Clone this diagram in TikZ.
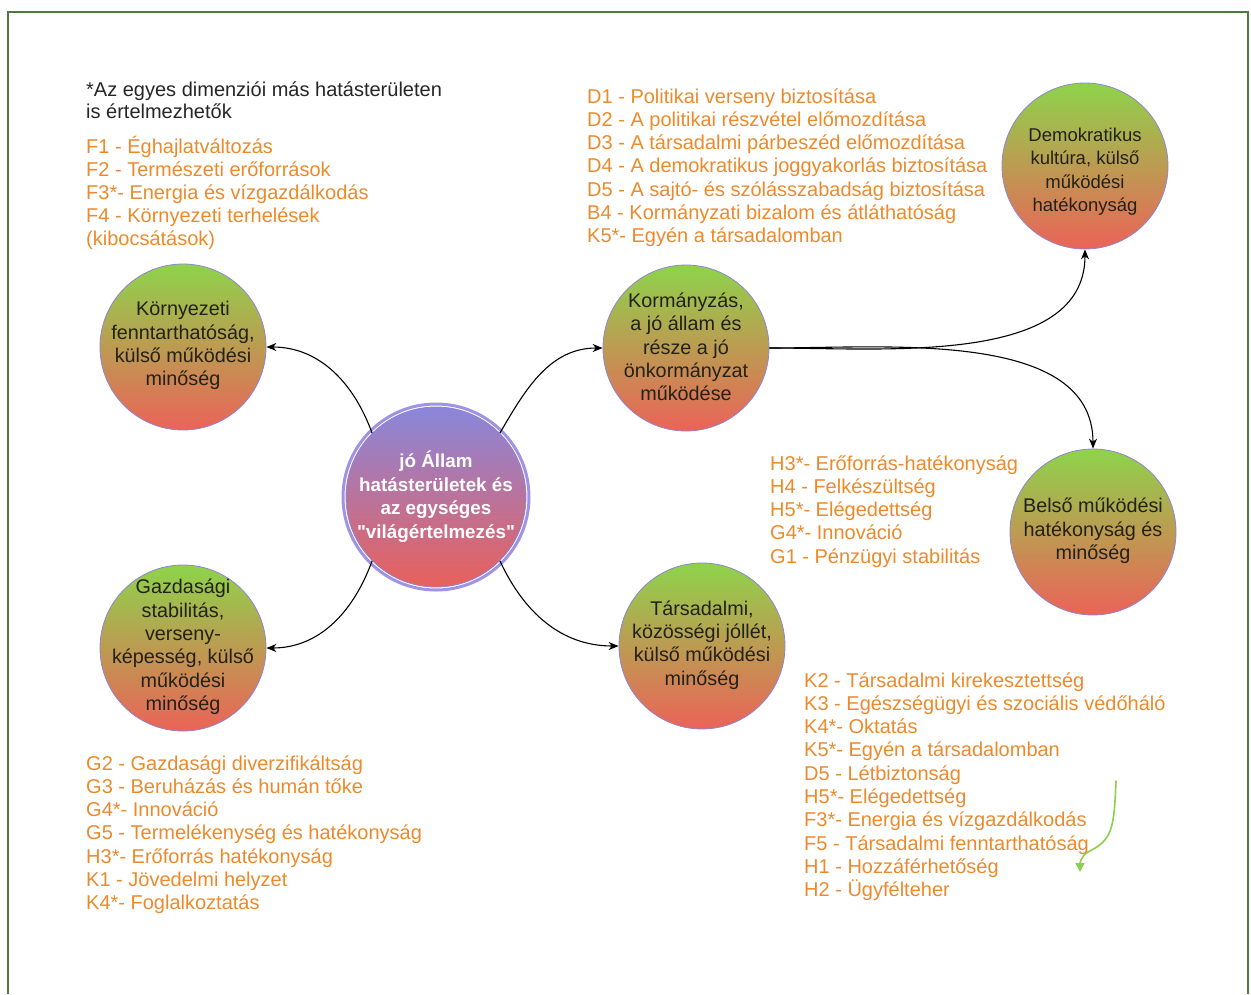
\documentclass[tikz,border=0pt]{standalone}
\usepackage{fontspec}
\setmainfont{Liberation Sans}
\newfontfamily\straightquotes{Liberation Sans}[Ligatures=TeXOff]
\usetikzlibrary{arrows.meta}

\definecolor{framegreen}{HTML}{4E7A3E}
\definecolor{listorange}{HTML}{EC8A2B}
\definecolor{topgreen}{HTML}{8ED34B}
\definecolor{midamber}{HTML}{D2B747}
\definecolor{botred}{HTML}{EB6358}
\definecolor{rimpurple}{HTML}{8F84CF}
\definecolor{hubtop}{HTML}{8A86DC}
\definecolor{hubmid}{HTML}{B675B4}
\definecolor{hubbot}{HTML}{E9605B}
\definecolor{hubring}{HTML}{A092E4}
\definecolor{circtext}{HTML}{222218}
\definecolor{markgreen}{HTML}{8CCF4A}

% centred text block that does not enlarge the circle around it
\newcommand{\circtext}[2][-4pt]{%
  \makebox[0pt]{\smash{\raisebox{#1}{\parbox[c]{172pt}{\centering #2}}}}}
% straight double quote
\newcommand{\sq}{{\straightquotes\symbol{34}}}

\begin{document}
\begin{tikzpicture}[x=1pt,y=-1pt,
  listline/.style={anchor=base west, inner sep=0pt, text=listorange,
    font=\fontsize{20}{23}\selectfont},
  noteline/.style={anchor=base west, inner sep=0pt, text=black!85,
    font=\fontsize{20}{23}\selectfont},
  area/.style={circle, minimum size=166pt, inner sep=0pt, draw=rimpurple,
    line width=0.8pt, top color=topgreen, middle color=midamber,
    bottom color=botred, text=circtext,
    font=\fontsize{19.8}{23.3}\selectfont},
  hub/.style={circle, minimum size=180pt, inner sep=0pt, draw=rimpurple,
    line width=0.8pt, top color=hubtop, middle color=hubmid,
    bottom color=hubbot, text=white,
    font=\bfseries\fontsize{18.8}{23.5}\selectfont},
  link/.style={draw=black, line width=1.1pt,
    -{Stealth[length=10pt,width=8pt]}}
]
\useasboundingbox (0,0) rectangle (1251,994);

% frame
\draw[framegreen, line width=2pt] (8,994) -- (8,12) -- (1248,12) -- (1248,994);

% central node with its outer ring
\node[hub] (hub) at (436,497)
  {\circtext{jó Állam\\hatásterületek és\\az egységes\\\sq világértelmezés\sq}};
\draw[hubring, line width=3pt] (hub.center) circle[radius=93];

% impact areas
\node[area] (env) at (183,347)
  {\circtext{Környezeti\\fenntarthatóság,\\külső működési\\minőség}};
\node[area] (gov) at (686,348)
  {\circtext{Kormányzás,\\a jó állam és\\része a jó\\önkormányzat\\működése}};
\node[area, font=\fontsize{18.5}{23.3}\selectfont] (dem) at (1085,166)
  {\circtext[-10pt]{Demokratikus\\kultúra, külső\\működési\\hatékonyság}};
\node[area] (inn) at (1093,532)
  {\circtext{Belső működési\\hatékonyság és\\minőség}};
\node[area] (soc) at (702,646)
  {\circtext{Társadalmi,\\közösségi jóllét,\\külső működési\\minőség}};
\node[area] (eco) at (183,648)
  {\circtext{Gazdasági\\stabilitás,\\verseny-\\képesség, külső\\működési\\minőség}};

% connectors
\draw[link] (hub.135) to[out=110, in=0] (env.east);
\draw[link] (hub.45) to[out=60, in=180] (gov.west);
\draw[link] (hub.225) to[out=-110, in=0] (eco.east);
\draw[link] (hub.315) to[out=-65, in=180] (soc.west);
\draw[link] (gov.east) to[out=0, in=-90, looseness=0.9] (dem.south);
\draw[link] (gov.east) to[out=0, in=90, looseness=0.9] (inn.north);

% note and indicator lists
\foreach \t [count=\i from 0] in
  {*Az egyes dimenziói más hatásterületen, is értelmezhetők}
  \node[noteline] (note\i) at (86,96+22*\i) {\t};

\foreach \t [count=\i from 0] in
  {F1 - Éghajlatváltozás, F2 - Természeti erőforrások,
   F3*- Energia és vízgazdálkodás, F4 - Környezeti terhelések,
   (kibocsátások)}
  \node[listline] (f\i) at (86,153+23.1*\i) {\t};

\foreach \t [count=\i from 0] in
  {D1 - Politikai verseny biztosítása,
   D2 - A politikai részvétel előmozdítása,
   D3 - A társadalmi párbeszéd előmozdítása,
   D4 - A demokratikus joggyakorlás biztosítása,
   D5 - A sajtó- és szólásszabadság biztosítása,
   B4 - Kormányzati bizalom és átláthatóság,
   K5*- Egyén a társadalomban}
  \node[listline] (d\i) at (587,103+23.3*\i) {\t};

\foreach \t [count=\i from 0] in
  {H3*- Erőforrás-hatékonyság, H4 - Felkészültség,
   H5*- Elégedettség, G4*- Innováció, G1 - Pénzügyi stabilitás}
  \node[listline] (h\i) at (770,470+23.3*\i) {\t};

\foreach \t [count=\i from 0] in
  {K2 - Társadalmi kirekesztettség,
   K3 - Egészségügyi és szociális védőháló,
   K4*- Oktatás, K5*- Egyén a társadalomban,
   D5 - Létbiztonság, H5*- Elégedettség,
   F3*- Energia és vízgazdálkodás,
   F5 - Társadalmi fenntarthatóság,
   H1 - Hozzáférhetőség, H2 - Ügyfélteher}
  \node[listline] (k\i) at (804,687+23.3*\i) {\t};

\foreach \t [count=\i from 0] in
  {G2 - Gazdasági diverzifikáltság,
   G3 - Beruházás és humán tőke,
   G4*- Innováció,
   G5 - Termelékenység és hatékonyság,
   H3*- Erőforrás hatékonyság,
   K1 - Jövedelmi helyzet,
   K4*- Foglalkoztatás}
  \node[listline] (g\i) at (86,770+23.3*\i) {\t};

% hand-drawn green pointer
\coordinate (penA) at (1116,781);
\coordinate (penB) at (1080,872);
\draw[markgreen, line width=1.6pt, line cap=round,
  -{Triangle[length=9pt,width=9pt]}]
  (penA) .. controls (1114,830) and (1112,840) .. (1088,852)
  to[out=-150, in=90] (penB);
\end{tikzpicture}
\end{document}
